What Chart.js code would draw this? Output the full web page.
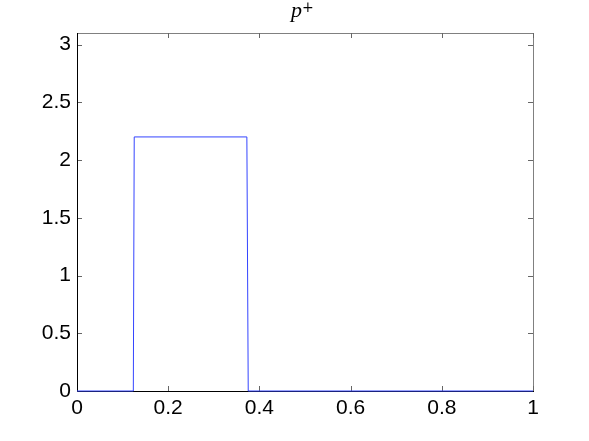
<!DOCTYPE html>
<html>
<head>
<meta charset="utf-8">
<script src="https://cdn.jsdelivr.net/npm/chart.js@4"></script>
<style>
  html, body { margin: 0; padding: 0; background: #fff; }
  #wrap { width: 589px; height: 441px; }
</style>
</head>
<body>
<div id="wrap"><canvas id="myChart" width="589" height="441"></canvas></div>
<script>
// data
var xValues = [0, 0.1235, 0.1255, 0.3725, 0.3755, 1];
var yValues = [0, 0, 2.2, 2.2, 0, 0];
var xTicks = [0, 0.2, 0.4, 0.6, 0.8, 1];
var yTicks = [0, 0.5, 1, 1.5, 2, 2.5, 3];

var points = xValues.map(function (x, i) { return { x: x, y: yValues[i] }; });

// matlab style box with inward ticks, drawn under the line
var boxPlugin = {
    id: 'box',
    beforeDatasetsDraw: function (chart) {
        var c = chart.ctx, a = chart.chartArea;
        var xs = chart.scales.x, ys = chart.scales.y;
        c.save();
        c.lineWidth = 1;
        // top and right in grey
        c.strokeStyle = '#808080';
        c.beginPath();
        c.moveTo(a.left, a.top + 0.5); c.lineTo(a.right + 0.5, a.top + 0.5);
        c.lineTo(a.right + 0.5, a.bottom);
        c.stroke();
        // ticks
        c.strokeStyle = '#666';
        c.beginPath();
        xTicks.forEach(function (v) {
            var px = Math.round(xs.getPixelForValue(v)) + 0.5;
            c.moveTo(px, a.bottom); c.lineTo(px, a.bottom - 5);
            c.moveTo(px, a.top); c.lineTo(px, a.top + 5);
        });
        yTicks.forEach(function (v) {
            var py = Math.round(ys.getPixelForValue(v)) + 0.5;
            c.moveTo(a.left, py); c.lineTo(a.left + 5, py);
            c.moveTo(a.right, py); c.lineTo(a.right - 5, py);
        });
        c.stroke();
        // left and bottom in black
        c.strokeStyle = '#000';
        c.beginPath();
        c.moveTo(a.left + 0.5, a.top); c.lineTo(a.left + 0.5, a.bottom + 0.5);
        c.lineTo(a.right + 1, a.bottom + 0.5);
        c.stroke();
        c.restore();
    },
    afterDraw: function (chart) {
        // title p^+
        var c = chart.ctx;
        c.save();
        c.fillStyle = '#000';
        c.textBaseline = 'alphabetic';
        c.font = 'italic 22px "Liberation Serif", "DejaVu Serif", serif';
        c.fillText('p', 291, 16.5);
        c.font = '14px "DejaVu Serif", "Liberation Serif", serif';
        c.fillText('+', 302, 11.5);
        c.restore();
    }
};

var ctx = document.getElementById('myChart').getContext('2d');
var myChart = new Chart(ctx, {
    type: 'scatter',
    data: {
        datasets: [{
            data: points,
            showLine: true,
            borderColor: '#3344ff',
            borderWidth: 1,
            pointRadius: 0,
            fill: false,
            clip: false
        }]
    },
    options: {
        responsive: false,
        animation: false,
        layout: { padding: { top: 33, right: 56, left: 0, bottom: 0 } },
        plugins: { legend: { display: false }, tooltip: { enabled: false }, title: { display: false } },
        scales: {
            x: {
                type: 'linear',
                min: 0, max: 1,
                afterBuildTicks: function (s) { s.ticks = xTicks.map(function (v) { return { value: v }; }); },
                afterFit: function (s) { s.height = 50; },
                grid: { display: false, drawTicks: false },
                border: { display: false },
                ticks: {
                    color: '#000',
                    padding: 5,
                    maxRotation: 0,
                    font: { family: '"Liberation Sans", Arial, sans-serif', size: 21 },
                    callback: function (v) { return String(v); }
                }
            },
            y: {
                type: 'linear',
                min: 0, max: 3.1,
                afterBuildTicks: function (s) { s.ticks = yTicks.map(function (v) { return { value: v }; }); },
                afterFit: function (s) { s.width = 77; },
                grid: { display: false, drawTicks: false },
                border: { display: false },
                ticks: {
                    color: '#000',
                    padding: 6,
                    font: { family: '"Liberation Sans", Arial, sans-serif', size: 21 },
                    callback: function (v) { return String(v); }
                }
            }
        }
    },
    plugins: [boxPlugin]
});
</script>
</body>
</html>
